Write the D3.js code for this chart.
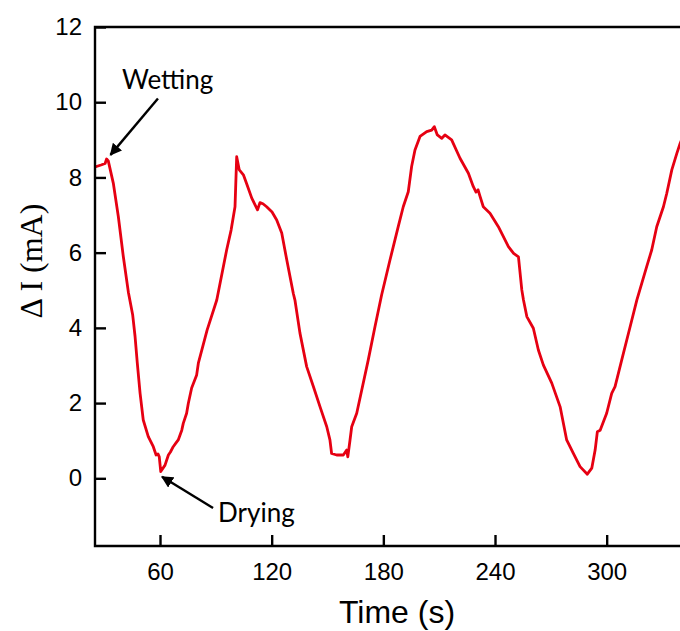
<!DOCTYPE html>
<html>
<head>
<meta charset="utf-8">
<script src="https://cdn.jsdelivr.net/npm/d3@7"></script>
<style>
  body { margin: 0; background: #fff; }
  svg { display: block; }
</style>
</head>
<body>
<svg id="chart" width="680" height="631"></svg>
<script>
// time (s) and current change (mA)
var times = [25.1, 28.3, 30.5, 31.3, 32.2, 34.9, 37.6, 40.3, 43.0, 45.3, 46.6, 47.8, 49.3, 51.0, 53.7, 56.4,
  57.9, 58.9, 59.6, 60.4, 62.7, 64.5, 65.6, 67.1, 68.6, 69.8, 71.7, 72.5, 74.3, 75.2, 77.0, 79.7, 80.6,
  85.3, 90.5, 95.8, 98.2, 100.3, 101.2, 102.6, 104.8, 106.8, 109.3, 111.6, 112.4, 113.7, 115.3, 117.3,
  120.2, 122.7, 125.4, 128.1, 131.6, 132.5, 135.2, 138.8, 142.4, 146.0, 149.6, 151.3, 152.2, 154.9,
  158.5, 160.3, 160.9, 162.1, 163.0, 165.7, 168.4, 171.9, 175.5, 179.1, 183.6, 188.0, 190.7, 193.4,
  195.2, 197.0, 199.7, 203.3, 206.0, 207.4, 209.0, 211.4, 213.1, 216.7, 221.2, 225.7, 228.3, 229.8,
  230.9, 232.0, 233.7, 237.3, 241.8, 247.2, 250.0, 252.6, 254.4, 255.3, 257.1, 260.6, 263.3, 266.0,
  270.5, 275.0, 278.5, 282.1, 285.7, 289.6, 292.0, 293.8, 295.0, 296.5, 300.0, 302.7, 304.5, 308.1,
  312.6, 316.2, 321.5, 324.2, 326.9, 330.5, 332.3, 335.0, 337.7, 339.5, 341.1];
var deltaI = [8.28, 8.33, 8.37, 8.49, 8.44, 7.85, 6.96, 5.89, 4.95, 4.35, 3.77, 3.06, 2.26, 1.55, 1.11, 0.84,
  0.62, 0.65, 0.57, 0.18, 0.35, 0.62, 0.70, 0.84, 0.94, 1.02, 1.28, 1.46, 1.73, 1.99, 2.40, 2.75, 3.06,
  3.94, 4.74, 6.07, 6.60, 7.22, 8.55, 8.20, 8.07, 7.80, 7.45, 7.22, 7.14, 7.33, 7.30, 7.22,
  7.08, 6.87, 6.52, 5.81, 4.92, 4.74, 3.86, 2.97, 2.44, 1.90, 1.37, 1.02, 0.66, 0.62,
  0.62, 0.75, 0.57, 1.02, 1.37, 1.73, 2.35, 3.15, 4.03, 4.88, 5.81, 6.69, 7.22, 7.62,
  8.29, 8.73, 9.09, 9.22, 9.26, 9.35, 9.13, 9.04, 9.13, 9.00, 8.51, 8.11, 7.76, 7.61,
  7.67, 7.49, 7.22, 7.05, 6.69, 6.16, 5.98, 5.89, 5.01, 4.74, 4.30, 3.99, 3.41, 3.01,
  2.53, 1.90, 1.02, 0.66, 0.31, 0.11, 0.27, 0.75, 1.24, 1.28, 1.73, 2.26, 2.44, 3.15,
  4.03, 4.74, 5.63, 6.07, 6.69, 7.22, 7.58, 8.20, 8.64, 8.91, 9.10];

var xTicks = [60, 120, 180, 240, 300];
var yTicks = [0, 2, 4, 6, 8, 10, 12];

// annotations: label, text position, arrow tail, arrow tip (data coords)
var notes = [
  { label: "Wetting", tx: 39.6, ty: 10.35, x1: 58.9, y1: 10.1, x2: 33.4, y2: 8.6 },
  { label: "Drying", tx: 91.2, ty: -1.15, x1: 88.5, y1: -0.79, x2: 61.1, y2: 0.04 }
];

var svg = d3.select("#chart");
var plotL = 95, plotR = 680, plotT = 27, plotB = 546;

var x = d3.scaleLinear().domain([25.07, 339.4]).range([plotL, plotR]);
var y = d3.scaleLinear().domain([-1.8, 12]).range([plotB, plotT]);

var defs = svg.append("defs");
defs.append("clipPath").attr("id", "plotclip")
  .append("rect").attr("x", plotL).attr("y", plotT)
  .attr("width", plotR - plotL).attr("height", plotB - plotT);

defs.append("marker")
  .attr("id", "head")
  .attr("viewBox", "0 0 10 10")
  .attr("refX", 9).attr("refY", 5)
  .attr("markerWidth", 5).attr("markerHeight", 5)
  .attr("markerUnits", "strokeWidth")
  .attr("orient", "auto")
  .append("path").attr("d", "M0,0 L10,5 L0,10 z").attr("fill", "#000");

// the curve
var pts = times.map(function(t, i) { return [t, deltaI[i]]; });
var line = d3.line()
  .x(function(d) { return x(d[0]); })
  .y(function(d) { return y(d[1]); });

svg.append("path")
  .datum(pts)
  .attr("clip-path", "url(#plotclip)")
  .attr("fill", "none")
  .attr("stroke", "#e60012")
  .attr("stroke-width", 2.8)
  .attr("stroke-linejoin", "round")
  .attr("d", line);

// axes, ticks pointing inwards
var yAxis = svg.append("g")
  .attr("transform", "translate(" + plotL + ",0)")
  .call(d3.axisLeft(y).tickValues(yTicks).tickSize(-11).tickPadding(13).tickFormat(d3.format("d")));
var xAxis = svg.append("g")
  .attr("transform", "translate(0," + plotB + ")")
  .call(d3.axisBottom(x).tickValues(xTicks).tickSize(-11).tickPadding(17).tickFormat(d3.format("d")));

[xAxis, yAxis].forEach(function(g) {
  g.select(".domain").remove();
  g.selectAll(".tick line").attr("stroke", "#000").attr("stroke-width", 2.4);
  g.selectAll(".tick text")
    .attr("fill", "#000")
    .style("font-family", "Arial, 'Liberation Sans', sans-serif")
    .style("font-size", "24px");
});

// frame: left, bottom, top (right side runs off the picture)
svg.append("path")
  .attr("d", "M" + plotR + "," + plotT + "H" + plotL + "V" + plotB + "H" + plotR)
  .attr("fill", "none")
  .attr("stroke", "#000")
  .attr("stroke-width", 2.4);

// axis titles
svg.append("text")
  .attr("x", 397).attr("y", 623)
  .attr("text-anchor", "middle")
  .style("font-family", "Arial, 'Liberation Sans', sans-serif")
  .style("font-size", "32px")
  .text("Time (s)");

svg.append("text")
  .attr("transform", "translate(42,261) rotate(-90)")
  .attr("text-anchor", "middle")
  .style("font-family", "'Times New Roman', 'Liberation Serif', serif")
  .style("font-size", "32px")
  .text("\u0394 I (mA)");

// annotations with arrows
notes.forEach(function(n) {
  svg.append("line")
    .attr("x1", x(n.x1)).attr("y1", y(n.y1))
    .attr("x2", x(n.x2)).attr("y2", y(n.y2))
    .attr("stroke", "#000")
    .attr("stroke-width", 2.4)
    .attr("marker-end", "url(#head)");
  svg.append("text")
    .attr("x", x(n.tx)).attr("y", y(n.ty))
    .style("font-family", "Lato, 'Open Sans', sans-serif")
    .style("font-size", "26px")
    .text(n.label);
});
</script>
</body>
</html>
